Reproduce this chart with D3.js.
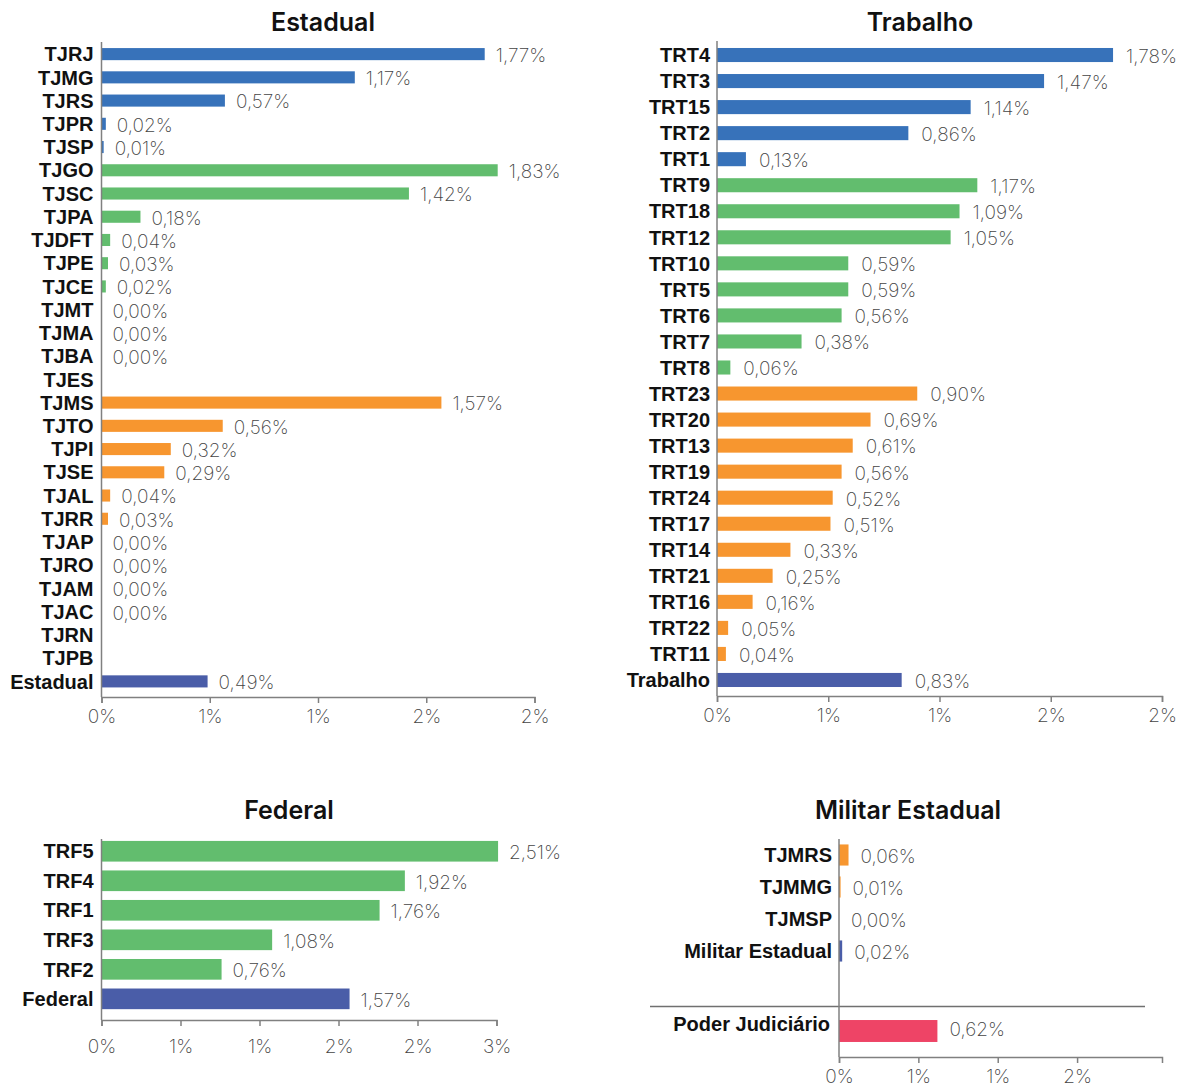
<!DOCTYPE html>
<html><head><meta charset="utf-8">
<script src="https://cdn.jsdelivr.net/npm/d3@7/dist/d3.min.js"></script>
<style>
html,body{margin:0;padding:0;background:#fff;}
svg{display:block;}
.title{font-family:Inter,"Noto Sans",sans-serif;font-weight:600;font-size:25px;fill:#111;}
.cat{font-family:"Liberation Sans",Arial,sans-serif;font-weight:700;font-size:20px;fill:#111;}
.val{font-family:Inter,"Noto Sans",sans-serif;font-weight:200;font-size:19px;fill:#444;}
.axis text{font-family:Inter,"Noto Sans",sans-serif;font-weight:200;font-size:19px;fill:#444;}
.axis path,.axis line{stroke:#808080;stroke-width:1.5;}
</style></head>
<body>
<svg id="chart" width="1181" height="1089"></svg>
<script>
// ---------- DATA ----------
const estadualCats = ["TJRJ","TJMG","TJRS","TJPR","TJSP","TJGO","TJSC","TJPA","TJDFT","TJPE","TJCE","TJMT","TJMA","TJBA","TJES","TJMS","TJTO","TJPI","TJSE","TJAL","TJRR","TJAP","TJRO","TJAM","TJAC","TJRN","TJPB","Estadual"];
const estadualVals = [1.77,1.17,0.57,0.02,0.01,1.83,1.42,0.18,0.04,0.03,0.02,0.00,0.00,0.00,null,1.57,0.56,0.32,0.29,0.04,0.03,0.00,0.00,0.00,0.00,null,null,0.49];
const estadualGroups = ["large","large","large","large","large","medium","medium","medium","medium","medium","medium","medium","medium","medium","medium","small","small","small","small","small","small","small","small","small","small","small","small","total"];
const estadualTicks = [0,0.5,1,1.5,2];

const trabalhoCats = ["TRT4","TRT3","TRT15","TRT2","TRT1","TRT9","TRT18","TRT12","TRT10","TRT5","TRT6","TRT7","TRT8","TRT23","TRT20","TRT13","TRT19","TRT24","TRT17","TRT14","TRT21","TRT16","TRT22","TRT11","Trabalho"];
const trabalhoVals = [1.78,1.47,1.14,0.86,0.13,1.17,1.09,1.05,0.59,0.59,0.56,0.38,0.06,0.90,0.69,0.61,0.56,0.52,0.51,0.33,0.25,0.16,0.05,0.04,0.83];
const trabalhoGroups = ["large","large","large","large","large","medium","medium","medium","medium","medium","medium","medium","medium","small","small","small","small","small","small","small","small","small","small","small","total"];
const trabalhoTicks = [0,0.5,1,1.5,2];

const federalCats = ["TRF5","TRF4","TRF1","TRF3","TRF2","Federal"];
const federalVals = [2.51,1.92,1.76,1.08,0.76,1.57];
const federalGroups = ["medium","medium","medium","medium","medium","total"];
const federalTicks = [0,0.5,1,1.5,2,2.5];

const militarCats = ["TJMRS","TJMMG","TJMSP","Militar Estadual"];
const militarVals = [0.06,0.01,0.00,0.02];
const militarGroups = ["small","small","small","total"];
const militarTicks = [0,0.5,1,1.5];

const judiciarioCats = ["Poder Judiciário"];
const judiciarioVals = [0.62];
const judiciarioGroups = ["judiciary"];

// ---------- STYLE ----------
const palette = {large:"#3772BA", medium:"#62BD6E", small:"#F7962F", total:"#4A5DA8", judiciary:"#EE4466"};
const fmtVal = v => v.toFixed(2).replace(".", ",") + "%";
const fmtTick = v => Math.round(v) + "%";

const svg = d3.select("#chart");

function panel(o){
  const g = svg.append("g");
  const x = d3.scaleLinear().domain(o.domain).range(o.xRange);
  const y = d3.scaleBand().domain(o.cats).range(o.yRange).paddingInner(o.pad).paddingOuter(o.pad/2);
  const rows = o.cats.map((c,i)=>({c, v:o.vals[i], grp:o.groups[i]}));

  g.append("text").attr("class","title").attr("x",o.titleX).attr("y",o.titleY)
    .attr("text-anchor","middle").text(o.title);

  g.selectAll("rect.bar").data(rows.filter(d=>d.v!==null)).join("rect")
    .attr("class","bar")
    .attr("x", x(0)).attr("y", d=>y(d.c))
    .attr("width", d=>Math.max(0, x(d.v)-x(0))).attr("height", y.bandwidth())
    .attr("fill", d=>palette[d.grp]);

  g.selectAll("text.cat").data(rows).join("text")
    .attr("class","cat").attr("x", x(0)-o.labelGap).attr("y", d=>y(d.c)+y.bandwidth()/2)
    .attr("dy","0.36em").attr("text-anchor","end").text(d=>d.c);

  g.selectAll("text.val").data(rows.filter(d=>d.v!==null)).join("text")
    .attr("class","val").attr("x", d=>x(d.v)+o.valGap).attr("y", d=>y(d.c)+y.bandwidth()/2+1)
    .attr("dy","0.36em").text(d=>fmtVal(d.v));
  return {g,x,y};
}

function xAxis(g, x, yPos, ticks, pad){
  return g.append("g").attr("class","axis").attr("transform",`translate(0,${yPos})`)
    .call(d3.axisBottom(x).tickValues(ticks).tickFormat(fmtTick).tickSize(6).tickSizeOuter(6).tickPadding(pad));
}
function yLine(g, x0, y0, y1){
  g.append("line").attr("x1",x0).attr("x2",x0).attr("y1",y0).attr("y2",y1)
    .attr("stroke","#808080").attr("stroke-width",1.5);
}

// Estadual
{
  const p = panel({title:"Estadual", titleX:323, titleY:31, cats:estadualCats, vals:estadualVals, groups:estadualGroups,
    domain:[0,2], xRange:[101.5,534.5], yRange:[42.5,693], pad:0.48, labelGap:8, valGap:11});
  xAxis(p.g, p.x, 697, estadualTicks, 7);
  yLine(p.g, p.x(0), 42, 697);
}
// Trabalho
{
  const p = panel({title:"Trabalho", titleX:920, titleY:31, cats:trabalhoCats, vals:trabalhoVals, groups:trabalhoGroups,
    domain:[0,2], xRange:[717,1162], yRange:[42,693], pad:0.46, labelGap:7, valGap:13});
  xAxis(p.g, p.x, 696, trabalhoTicks, 7);
  yLine(p.g, p.x(0), 41, 696);
}
// Federal
{
  const p = panel({title:"Federal", titleX:289, titleY:819, cats:federalCats, vals:federalVals, groups:federalGroups,
    domain:[0,2.5], xRange:[101.5,496.5], yRange:[836.5,1013.6], pad:0.3, labelGap:8, valGap:11});
  xAxis(p.g, p.x, 1020, federalTicks, 14);
  yLine(p.g, p.x(0), 839, 1020);
}
// Militar Estadual + Poder Judiciário
{
  const p = panel({title:"Militar Estadual", titleX:908, titleY:819, cats:militarCats, vals:militarVals, groups:militarGroups,
    domain:[0,2.035], xRange:[839,1162], yRange:[839,967], pad:0.34, labelGap:7, valGap:12});
  const x = p.x;
  const yj = d3.scaleBand().domain(judiciarioCats).range([1006,1056]).paddingInner(0.39).paddingOuter(0.39);
  const rowsJ = judiciarioCats.map((c,i)=>({c, v:judiciarioVals[i], grp:judiciarioGroups[i]}));
  p.g.selectAll("rect.jbar").data(rowsJ).join("rect").attr("class","jbar")
    .attr("x", x(0)).attr("y", d=>yj(d.c)).attr("width", d=>x(d.v)-x(0)).attr("height", yj.bandwidth())
    .attr("fill", d=>palette[d.grp]);
  p.g.selectAll("text.jcat").data(rowsJ).join("text").attr("class","cat")
    .attr("x", x(0)-9).attr("y", d=>yj(d.c)+yj.bandwidth()/2-7).attr("dy","0.36em").attr("text-anchor","end").text(d=>d.c);
  p.g.selectAll("text.jval").data(rowsJ).join("text").attr("class","val")
    .attr("x", d=>x(d.v)+12).attr("y", d=>yj(d.c)+yj.bandwidth()/2-2).attr("dy","0.36em").text(d=>fmtVal(d.v));
  p.g.append("line").attr("x1",650).attr("x2",1145).attr("y1",1006.5).attr("y2",1006.5)
    .attr("stroke","#707070").attr("stroke-width",1.3);
  xAxis(p.g, x, 1057, militarTicks, 7);
  yLine(p.g, x(0), 839, 1057);
}
</script>
</body></html>
